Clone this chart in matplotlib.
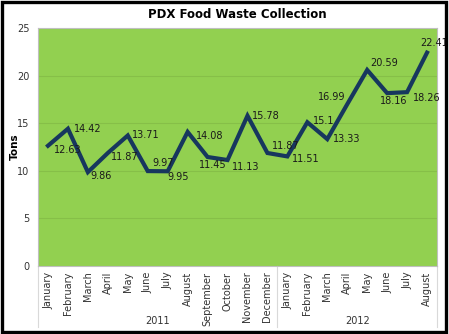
import matplotlib.pyplot as plt
import numpy as np

months = ["January", "February", "March", "April", "May", "June", "July",
          "August", "September", "October", "November", "December",
          "January", "February", "March", "April", "May", "June", "July", "August"]
years = ["2011", "2012"]
year_counts = [12, 8]
tons = [12.63, 14.42, 9.86, 11.87, 13.71, 9.97, 9.95, 14.08, 11.45, 11.13,
        15.78, 11.87, 11.51, 15.1, 13.33, 16.99, 20.59, 18.16, 18.26, 22.41]

# label offsets in points (dx, dy) and horizontal alignment
label_pos = [(4, -3, "left"), (4, 0, "left"), (2, -3, "left"), (2, -3, "left"),
             (3, 0, "left"), (3, 6, "left"), (0, -4, "left"), (6, -3, "left"),
             (-6, -6, "left"), (3, -5, "left"), (3, 0, "left"), (3, 5, "left"),
             (3, -2, "left"), (4, 1, "left"), (4, 0, "left"), (-1, 5, "right"),
             (2, 5, "left"), (-5, -6, "left"), (4, -4, "left"), (-5, 7, "left")]

W, H = 449, 334
fig = plt.figure(figsize=(W / 100, H / 100), dpi=100)
ax = fig.add_axes([38 / W, 1 - 266 / H, 399 / W, 238 / H])

x = np.arange(len(tons))
ax.set_facecolor("#92D050")
ax.plot(x, tons, color="#17375E", lw=3, solid_joinstyle="miter", zorder=3)
for xi, v, (dx, dy, ha) in zip(x, tons, label_pos):
    ax.annotate(f"{v:g}", (xi, v), xytext=(dx, dy), textcoords="offset points",
                ha=ha, va="center", fontsize=7, color="#1a1a1a", zorder=4)

ax.set_xlim(-0.5, len(tons) - 0.5)
ax.set_ylim(0, 25)
ax.set_yticks(range(0, 26, 5))
ax.yaxis.grid(True, color="#86BF48", lw=0.8)
ax.set_axisbelow(True)
ax.tick_params(axis="y", length=0, labelsize=7, labelcolor="#333333", pad=6)
ax.set_xticks(x)
ax.set_xticklabels(months, rotation=90, fontsize=7, color="#333333", va="top")
ax.tick_params(axis="x", length=0, pad=4)
for s in ax.spines.values():
    s.set_color("#BFBFBF")
    s.set_linewidth(0.8)

ax.set_ylabel("Tons", fontsize=7.5, fontweight="bold")
ax.yaxis.set_label_coords(-0.045, 0.5)
ax.set_title("PDX Food Waste Collection", fontsize=8.5, fontweight="bold", pad=7)

# year grouping on the category axis
start = -0.5
for yr, n in zip(years, year_counts):
    ax.text(start + n / 2, -0.23, yr, transform=ax.get_xaxis_transform(),
            ha="center", va="center", fontsize=7, color="#333333")
    start += n
bounds = np.cumsum([0] + year_counts) - 0.5
for b in bounds:
    ax.plot([b, b], [0, -0.255], transform=ax.get_xaxis_transform(),
            color="#D9D9D9", lw=0.8, clip_on=False)

# outer frame
fig.patches.append(plt.Rectangle((0.004, 0.006), 0.99, 0.987, transform=fig.transFigure,
                                 fill=False, edgecolor="black", lw=2.4))

fig.savefig("out.png", dpi=100)
